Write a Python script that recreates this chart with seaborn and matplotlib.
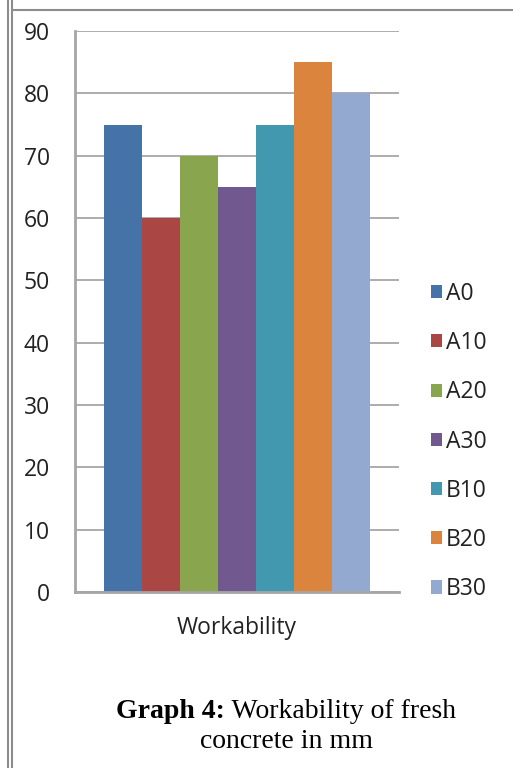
import matplotlib
matplotlib.use("Agg")
import matplotlib.pyplot as plt
from matplotlib.lines import Line2D
import seaborn as sns
import pandas as pd

# Slump values (mm) for each mix
mixes = ["A0", "A10", "A20", "A30", "B10", "B20", "B30"]
slump = [75, 60, 70, 65, 75, 85, 80]
category = ["Workability"] * len(mixes)
colors = ["#4572A7", "#AA4643", "#89A54E", "#71588F", "#4198AF", "#DB843D", "#93A9CF"]
y_ticks = [0, 10, 20, 30, 40, 50, 60, 70, 80, 90]

df = pd.DataFrame({"test": category, "mix": mixes, "value": slump})

sns.set_theme(style="white")
plt.rcParams["font.family"] = ["Open Sans", "DejaVu Sans"]

W, H = 513, 768
FS = 16.5
fig = plt.figure(figsize=(W / 100, H / 100), dpi=100)
fig.patch.set_facecolor("white")
ax = fig.add_axes([75 / W, 1 - 592 / H, (399 - 75) / W, (592 - 31) / H])

sns.barplot(data=df, x="test", y="value", hue="mix", hue_order=mixes,
            palette=colors, width=0.82, gap=0, saturation=1,
            edgecolor="none", linewidth=0, ax=ax)

ax.set_ylim(0, 90)
ax.set_xlim(-0.5, 0.5)
ax.set_yticks(y_ticks)
ax.set_yticklabels([str(t) for t in y_ticks], fontsize=FS, color="#222222")
ax.tick_params(axis="y", length=0, pad=18)
ax.tick_params(axis="x", length=0)
ax.set_xticks([])
ax.set_xlabel("")
ax.set_ylabel("")
ax.yaxis.grid(True, color="#A6A6A6", linewidth=1.3)
ax.set_axisbelow(True)
for side in ["top", "right"]:
    ax.spines[side].set_visible(False)
for side in ["left", "bottom"]:
    ax.spines[side].set_color("#A6A6A6")
    ax.spines[side].set_linewidth(2)

fig.text(237 / W, 1 - 628 / H, "Workability", ha="center", va="center",
         fontsize=FS, color="#222222")

leg = ax.legend(loc="center left", bbox_to_anchor=(431 / W, 1 - 441.5 / H),
                bbox_transform=fig.transFigure, frameon=False, fontsize=FS,
                handlelength=0.5, handleheight=0.5, handletextpad=0.15,
                labelspacing=1.1, borderpad=0, borderaxespad=0)
for t in leg.get_texts():
    t.set_color("#222222")

# Caption: bold label followed by regular text, centred as one line
serif = ["Liberation Serif", "DejaVu Serif"]
fig.canvas.draw()
r = fig.canvas.get_renderer()
cx = 286 / W
y1 = 1 - 711 / H
tb = fig.text(0, y1, "Graph 4:", fontsize=20, fontweight="bold", family=serif,
              ha="left", va="center", color="black")
tr = fig.text(0, y1, " Workability of fresh", fontsize=20, family=serif,
              ha="left", va="center", color="black")
wb = tb.get_window_extent(r).width / W
wr = tr.get_window_extent(r).width / W
x0 = cx - (wb + wr) / 2
tb.set_x(x0)
tr.set_x(x0 + wb)
fig.text(cx, 1 - 741 / H, "concrete in mm", fontsize=20, family=serif,
         ha="center", va="center", color="black")

# Page frame lines
for xp in (8, 12):
    fig.add_artist(Line2D([xp / W, xp / W], [0, 1], color="#8C8C8C", linewidth=1.5,
                          transform=fig.transFigure))
fig.add_artist(Line2D([12 / W, 1], [1 - 10 / H, 1 - 10 / H], color="#8C8C8C",
                      linewidth=1.5, transform=fig.transFigure))

fig.savefig("out.png", dpi=100, facecolor="white")
